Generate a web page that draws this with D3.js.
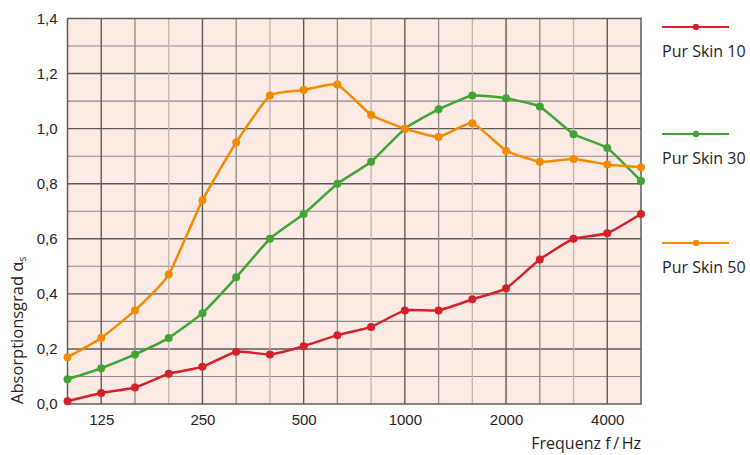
<!DOCTYPE html>
<html>
<head>
<meta charset="utf-8">
<script src="https://cdn.jsdelivr.net/npm/d3@7"></script>
<style>
  body { margin: 0; background: #fff; }
  svg { display: block; font-family: "Open Sans", "Noto Sans", sans-serif; }
</style>
</head>
<body>
<div id="chart"></div>
<script>
// third-octave bands (Hz)
const bands = [100, 125, 160, 200, 250, 315, 400, 500, 630, 800, 1000, 1250, 1600, 2000, 2500, 3150, 4000, 5000];
const labelled = [125, 250, 500, 1000, 2000, 4000];
const yTicks = [0, 0.2, 0.4, 0.6, 0.8, 1.0, 1.2, 1.4];

const skin10 = [0.01, 0.04, 0.06, 0.11, 0.135, 0.19, 0.18, 0.21, 0.25, 0.28, 0.34, 0.34, 0.38, 0.42, 0.525, 0.60, 0.62, 0.69];
const skin30 = [0.09, 0.13, 0.18, 0.24, 0.33, 0.46, 0.60, 0.69, 0.80, 0.88, 1.00, 1.07, 1.12, 1.11, 1.08, 0.98, 0.93, 0.81];
const skin50 = [0.17, 0.24, 0.34, 0.47, 0.74, 0.95, 1.12, 1.14, 1.16, 1.05, 1.00, 0.97, 1.02, 0.92, 0.88, 0.89, 0.87, 0.86];

const series = [
    { name: "Pur Skin 10", values: skin10, color: "#d4202a" },
    { name: "Pur Skin 30", values: skin30, color: "#41a535" },
    { name: "Pur Skin 50", values: skin50, color: "#f18b00" }
];

const width = 750, height = 455;
const margin = { top: 18.5, right: 109, bottom: 51, left: 67.5 };
const textColor = "#262324";

const x = d3.scalePoint()
    .domain(bands)
    .range([margin.left, width - margin.right]);

const y = d3.scaleLinear()
    .domain([0, 1.4])
    .range([height - margin.bottom, margin.top]);

const comma = v => d3.format(".1f")(v).replace(".", ",");

const svg = d3.select("#chart").append("svg")
    .attr("width", width)
    .attr("height", height);

// plot background
svg.append("rect")
    .attr("x", margin.left)
    .attr("y", margin.top)
    .attr("width", x.range()[1] - margin.left)
    .attr("height", y(0) - y(1.4))
    .attr("fill", "#fbebe4");

// horizontal grid, every 0.1
const hLines = d3.range(1, 14).map(d => d / 10);
svg.append("g")
    .selectAll("line")
    .data(hLines)
    .join("line")
    .attr("x1", margin.left)
    .attr("x2", x.range()[1])
    .attr("y1", d => y(d))
    .attr("y2", d => y(d))
    .attr("stroke", (d, i) => i % 2 === 1 ? "#5f5a58" : "#8e8886")
    .attr("stroke-width", (d, i) => i % 2 === 1 ? 1.4 : 1.1);

// vertical grid, one line per band
svg.append("g")
    .selectAll("line")
    .data(bands.slice(1, -1))
    .join("line")
    .attr("x1", d => x(d))
    .attr("x2", d => x(d))
    .attr("y1", y(1.4))
    .attr("y2", y(0))
    .attr("stroke", (d, i) => {
        const k = (i + 1) % 3;
        return k === 1 ? "#5f5a58" : k === 2 ? "#8e8886" : "#beb3ae";
    })
    .attr("stroke-width", (d, i) => (i + 1) % 3 === 1 ? 1.4 : 1.3);

// frame
svg.append("rect")
    .attr("x", margin.left)
    .attr("y", margin.top)
    .attr("width", x.range()[1] - margin.left)
    .attr("height", y(0) - y(1.4))
    .attr("fill", "none")
    .attr("stroke", "#5f5a58")
    .attr("stroke-width", 1.5);

// axes
const yAxis = svg.append("g")
    .attr("transform", `translate(${margin.left},0)`)
    .call(d3.axisLeft(y).tickValues(yTicks).tickFormat(comma).tickSize(0).tickPadding(10));
yAxis.select(".domain").remove();
yAxis.selectAll("text").attr("font-size", 15).attr("fill", textColor).attr("font-family", null);

const xAxis = svg.append("g")
    .attr("transform", `translate(0,${y(0)})`)
    .call(d3.axisBottom(x).tickValues(labelled).tickSize(0).tickPadding(10));
xAxis.select(".domain").remove();
xAxis.selectAll("text").attr("font-size", 15).attr("fill", textColor).attr("font-family", null);

svg.append("text")
    .attr("x", x.range()[1])
    .attr("y", 449)
    .attr("text-anchor", "end")
    .attr("font-size", 16)
    .attr("fill", textColor)
    .text("Frequenz f\u2009/\u2009Hz");

const yTitle = svg.append("text")
    .attr("transform", `translate(23,${y(0)}) rotate(-90)`)
    .attr("text-anchor", "start")
    .attr("font-size", 16.5)
    .attr("fill", textColor);
yTitle.append("tspan").text("Absorptionsgrad α");
yTitle.append("tspan").attr("font-size", 10).attr("dy", 3).text("s");

// curves
const line = d3.line()
    .x((d, i) => x(bands[i]))
    .y(d => y(d))
    .curve(d3.curveCardinal.tension(0.55));

const g = svg.append("g");
series.forEach(s => {
    g.append("path")
        .attr("d", line(s.values))
        .attr("fill", "none")
        .attr("stroke", s.color)
        .attr("stroke-width", 2.5);
    g.append("g")
        .selectAll("circle")
        .data(s.values)
        .join("circle")
        .attr("cx", (d, i) => x(bands[i]))
        .attr("cy", d => y(d))
        .attr("r", 4)
        .attr("fill", s.color);
});

// legend
const legendY = [27, 134, 243];
const legend = svg.append("g")
    .selectAll("g")
    .data(series)
    .join("g")
    .attr("transform", (d, i) => `translate(662,${legendY[i]})`);
legend.append("line")
    .attr("x1", 0).attr("x2", 67)
    .attr("stroke", d => d.color)
    .attr("stroke-width", 2.2);
legend.append("circle")
    .attr("cx", 34).attr("r", 3.2)
    .attr("fill", d => d.color);
legend.append("text")
    .attr("y", 30)
    .attr("font-size", 16)
    .attr("fill", textColor)
    .text(d => d.name);
</script>
</body>
</html>
